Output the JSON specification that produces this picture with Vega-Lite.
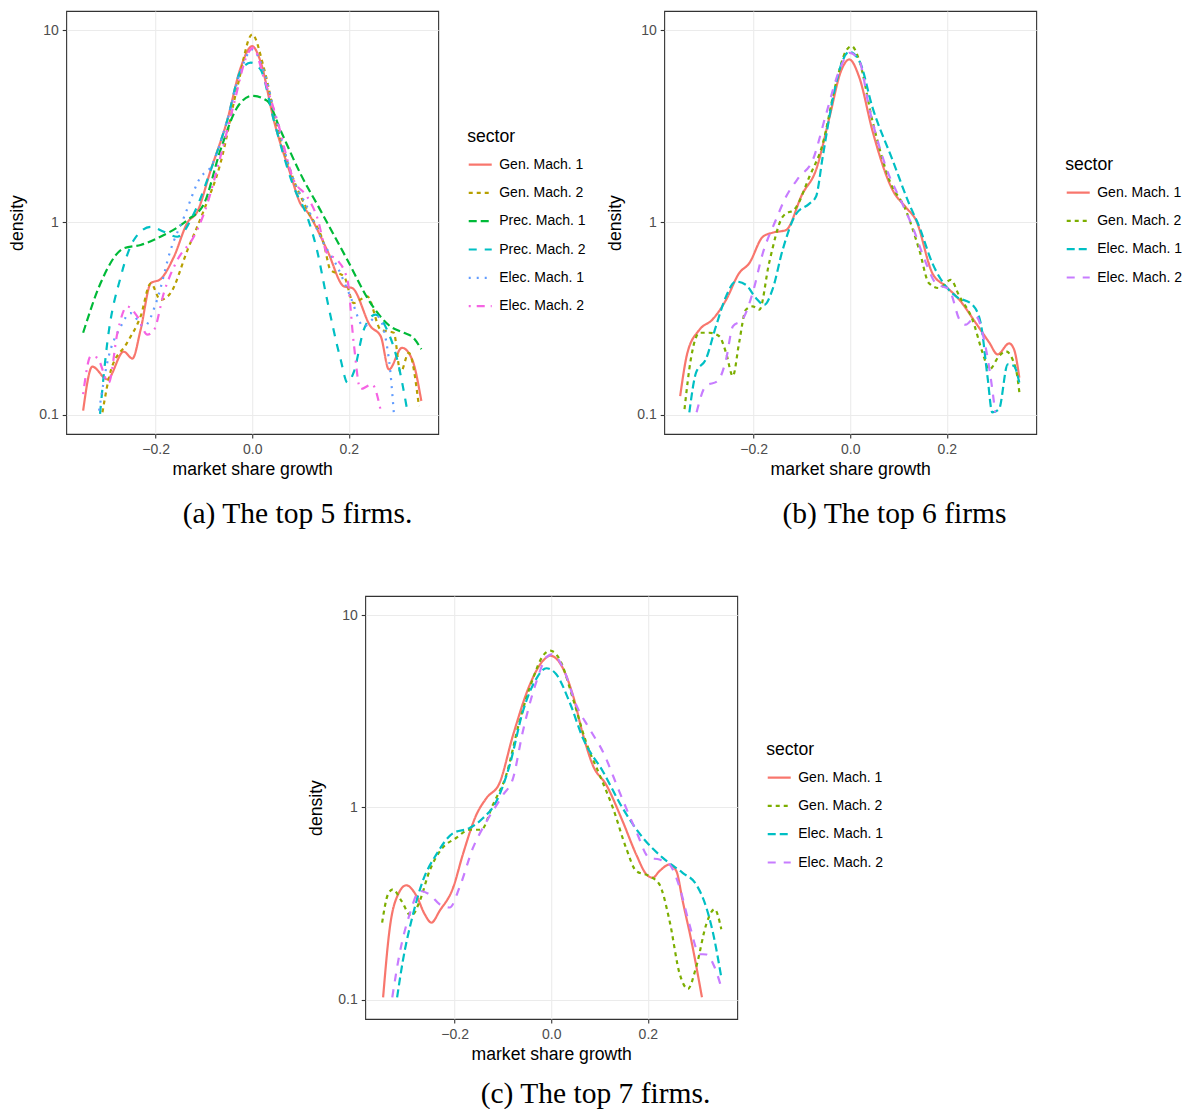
{
"$schema": "https://vega.github.io/schema/vega-lite/v6.json",
"background": "white",
"padding": {"left": 8, "top": 10, "right": 0, "bottom": 0},
"config": {
  "font": "Liberation Sans",
  "view": {"stroke": "#333333", "strokeWidth": 1.1},
  "axis": {"grid": true, "gridColor": "#EBEBEB", "gridWidth": 1.1, "domain": false, "tickColor": "#333333", "tickSize": 4, "tickWidth": 1.1, "labelColor": "#4D4D4D", "labelFontSize": 14, "labelFont": "Liberation Sans", "labelPadding": 4, "titleFont": "Liberation Sans", "titleFontSize": 17.6, "titleFontWeight": "normal", "titleColor": "black", "titlePadding": 4, "labelFlush": false},
  "axisY": {"titlePadding": 12},
  "legend": {"titleFont": "Liberation Sans", "titleFontSize": 17.6, "titleFontWeight": "normal", "titleColor": "black", "labelFont": "Liberation Sans", "labelFontSize": 14, "labelColor": "black", "symbolSize": 529, "symbolStrokeWidth": 2.2, "symbolType": "stroke", "rowPadding": 8.3, "labelOffset": 6, "titlePadding": 6, "padding": 0},
  "title": {"font": "Liberation Serif", "fontSize": 29.5, "fontWeight": "normal", "color": "black", "orient": "bottom", "anchor": "middle", "frame": "bounds", "offset": 22},
  "line": {"strokeWidth": 2.2, "interpolate": "monotone"}
},
"datasets": {
"a": [
{"sector":"Gen. Mach. 1","growth":-0.35,"density":0.105},{"sector":"Gen. Mach. 1","growth":-0.331,"density":0.178},{"sector":"Gen. Mach. 1","growth":-0.30,"density":0.153},{"sector":"Gen. Mach. 1","growth":-0.266,"density":0.213},{"sector":"Gen. Mach. 1","growth":-0.248,"density":0.196},{"sector":"Gen. Mach. 1","growth":-0.231,"density":0.277},{"sector":"Gen. Mach. 1","growth":-0.21,"density":0.483},{"sector":"Gen. Mach. 1","growth":-0.19,"density":0.507},{"sector":"Gen. Mach. 1","growth":-0.162,"density":0.664},{"sector":"Gen. Mach. 1","growth":-0.134,"density":1.0},{"sector":"Gen. Mach. 1","growth":-0.114,"density":1.135},{"sector":"Gen. Mach. 1","growth":-0.086,"density":1.87},{"sector":"Gen. Mach. 1","growth":-0.052,"density":3.38},{"sector":"Gen. Mach. 1","growth":-0.024,"density":6.38},{"sector":"Gen. Mach. 1","growth":0.0,"density":8.26},{"sector":"Gen. Mach. 1","growth":0.017,"density":6.9},{"sector":"Gen. Mach. 1","growth":0.045,"density":3.38},{"sector":"Gen. Mach. 1","growth":0.079,"density":1.79},{"sector":"Gen. Mach. 1","growth":0.1,"density":1.25},{"sector":"Gen. Mach. 1","growth":0.114,"density":1.135},{"sector":"Gen. Mach. 1","growth":0.155,"density":0.719},{"sector":"Gen. Mach. 1","growth":0.19,"density":0.465},{"sector":"Gen. Mach. 1","growth":0.207,"density":0.456},{"sector":"Gen. Mach. 1","growth":0.245,"density":0.288},{"sector":"Gen. Mach. 1","growth":0.266,"density":0.256},{"sector":"Gen. Mach. 1","growth":0.283,"density":0.172},{"sector":"Gen. Mach. 1","growth":0.31,"density":0.223},{"sector":"Gen. Mach. 1","growth":0.331,"density":0.194},{"sector":"Gen. Mach. 1","growth":0.35,"density":0.118},
{"sector":"Gen. Mach. 2","growth":-0.31,"density":0.103},{"sector":"Gen. Mach. 2","growth":-0.293,"density":0.169},{"sector":"Gen. Mach. 2","growth":-0.259,"density":0.237},{"sector":"Gen. Mach. 2","growth":-0.231,"density":0.325},{"sector":"Gen. Mach. 2","growth":-0.21,"density":0.483},{"sector":"Gen. Mach. 2","growth":-0.19,"density":0.396},{"sector":"Gen. Mach. 2","growth":-0.169,"density":0.43},{"sector":"Gen. Mach. 2","growth":-0.134,"density":0.719},{"sector":"Gen. Mach. 2","growth":-0.1,"density":1.16},{"sector":"Gen. Mach. 2","growth":-0.066,"density":2.02},{"sector":"Gen. Mach. 2","growth":-0.031,"density":5.03},{"sector":"Gen. Mach. 2","growth":0.0,"density":9.5},{"sector":"Gen. Mach. 2","growth":0.024,"density":6.38},{"sector":"Gen. Mach. 2","growth":0.052,"density":3.12},{"sector":"Gen. Mach. 2","growth":0.086,"density":1.66},{"sector":"Gen. Mach. 2","growth":0.114,"density":1.16},{"sector":"Gen. Mach. 2","growth":0.148,"density":0.778},{"sector":"Gen. Mach. 2","growth":0.162,"density":0.567},{"sector":"Gen. Mach. 2","growth":0.19,"density":0.524},{"sector":"Gen. Mach. 2","growth":0.21,"density":0.381},{"sector":"Gen. Mach. 2","growth":0.238,"density":0.413},{"sector":"Gen. Mach. 2","growth":0.266,"density":0.277},{"sector":"Gen. Mach. 2","growth":0.293,"density":0.267},{"sector":"Gen. Mach. 2","growth":0.307,"density":0.166},{"sector":"Gen. Mach. 2","growth":0.324,"density":0.21},{"sector":"Gen. Mach. 2","growth":0.345,"density":0.111},
{"sector":"Prec. Mach. 1","growth":-0.35,"density":0.267},{"sector":"Prec. Mach. 1","growth":-0.314,"density":0.483},{"sector":"Prec. Mach. 1","growth":-0.266,"density":0.734},{"sector":"Prec. Mach. 1","growth":-0.231,"density":0.764},{"sector":"Prec. Mach. 1","growth":-0.19,"density":0.843},{"sector":"Prec. Mach. 1","growth":-0.134,"density":1.03},{"sector":"Prec. Mach. 1","growth":-0.1,"density":1.25},{"sector":"Prec. Mach. 1","growth":-0.066,"density":2.37},{"sector":"Prec. Mach. 1","growth":-0.031,"density":3.97},{"sector":"Prec. Mach. 1","growth":0.0,"density":4.56},{"sector":"Prec. Mach. 1","growth":0.031,"density":4.29},{"sector":"Prec. Mach. 1","growth":0.059,"density":3.0},{"sector":"Prec. Mach. 1","growth":0.1,"density":1.79},{"sector":"Prec. Mach. 1","growth":0.141,"density":1.16},{"sector":"Prec. Mach. 1","growth":0.197,"density":0.638},{"sector":"Prec. Mach. 1","growth":0.245,"density":0.381},{"sector":"Prec. Mach. 1","growth":0.286,"density":0.288},{"sector":"Prec. Mach. 1","growth":0.314,"density":0.267},{"sector":"Prec. Mach. 1","growth":0.334,"density":0.251},{"sector":"Prec. Mach. 1","growth":0.35,"density":0.219},
{"sector":"Prec. Mach. 2","growth":-0.315,"density":0.101},{"sector":"Prec. Mach. 2","growth":-0.3,"density":0.237},{"sector":"Prec. Mach. 2","growth":-0.272,"density":0.524},{"sector":"Prec. Mach. 2","growth":-0.245,"density":0.811},{"sector":"Prec. Mach. 2","growth":-0.21,"density":0.95},{"sector":"Prec. Mach. 2","growth":-0.183,"density":0.895},{"sector":"Prec. Mach. 2","growth":-0.155,"density":0.843},{"sector":"Prec. Mach. 2","growth":-0.121,"density":1.11},{"sector":"Prec. Mach. 2","growth":-0.086,"density":1.87},{"sector":"Prec. Mach. 2","growth":-0.052,"density":3.38},{"sector":"Prec. Mach. 2","growth":-0.024,"density":6.14},{"sector":"Prec. Mach. 2","growth":-0.003,"density":6.78},{"sector":"Prec. Mach. 2","growth":0.017,"density":6.26},{"sector":"Prec. Mach. 2","growth":0.045,"density":3.38},{"sector":"Prec. Mach. 2","growth":0.086,"density":1.53},{"sector":"Prec. Mach. 2","growth":0.114,"density":1.07},{"sector":"Prec. Mach. 2","growth":0.134,"density":0.719},{"sector":"Prec. Mach. 2","growth":0.155,"density":0.396},{"sector":"Prec. Mach. 2","growth":0.183,"density":0.194},{"sector":"Prec. Mach. 2","growth":0.197,"density":0.147},{"sector":"Prec. Mach. 2","growth":0.21,"density":0.166},{"sector":"Prec. Mach. 2","growth":0.231,"density":0.277},{"sector":"Prec. Mach. 2","growth":0.255,"density":0.332},{"sector":"Prec. Mach. 2","growth":0.279,"density":0.277},{"sector":"Prec. Mach. 2","growth":0.3,"density":0.194},{"sector":"Prec. Mach. 2","growth":0.321,"density":0.105},
{"sector":"Elec. Mach. 1","growth":-0.317,"density":0.105},{"sector":"Elec. Mach. 1","growth":-0.3,"density":0.187},{"sector":"Elec. Mach. 1","growth":-0.272,"density":0.288},{"sector":"Elec. Mach. 1","growth":-0.252,"density":0.338},{"sector":"Elec. Mach. 1","growth":-0.224,"density":0.288},{"sector":"Elec. Mach. 1","growth":-0.197,"density":0.396},{"sector":"Elec. Mach. 1","growth":-0.169,"density":0.719},{"sector":"Elec. Mach. 1","growth":-0.141,"density":1.07},{"sector":"Elec. Mach. 1","growth":-0.107,"density":1.72},{"sector":"Elec. Mach. 1","growth":-0.086,"density":1.94},{"sector":"Elec. Mach. 1","growth":-0.052,"density":3.38},{"sector":"Elec. Mach. 1","growth":-0.024,"density":6.14},{"sector":"Elec. Mach. 1","growth":0.0,"density":7.94},{"sector":"Elec. Mach. 1","growth":0.024,"density":6.14},{"sector":"Elec. Mach. 1","growth":0.052,"density":3.25},{"sector":"Elec. Mach. 1","growth":0.086,"density":1.66},{"sector":"Elec. Mach. 1","growth":0.114,"density":1.2},{"sector":"Elec. Mach. 1","growth":0.148,"density":0.778},{"sector":"Elec. Mach. 1","growth":0.176,"density":0.59},{"sector":"Elec. Mach. 1","growth":0.203,"density":0.413},{"sector":"Elec. Mach. 1","growth":0.231,"density":0.288},{"sector":"Elec. Mach. 1","growth":0.259,"density":0.325},{"sector":"Elec. Mach. 1","growth":0.283,"density":0.194},{"sector":"Elec. Mach. 1","growth":0.293,"density":0.103},
{"sector":"Elec. Mach. 2","growth":-0.35,"density":0.128},{"sector":"Elec. Mach. 2","growth":-0.334,"density":0.202},{"sector":"Elec. Mach. 2","growth":-0.321,"density":0.198},{"sector":"Elec. Mach. 2","growth":-0.297,"density":0.147},{"sector":"Elec. Mach. 2","growth":-0.279,"density":0.267},{"sector":"Elec. Mach. 2","growth":-0.259,"density":0.366},{"sector":"Elec. Mach. 2","growth":-0.238,"density":0.325},{"sector":"Elec. Mach. 2","growth":-0.217,"density":0.261},{"sector":"Elec. Mach. 2","growth":-0.203,"density":0.277},{"sector":"Elec. Mach. 2","growth":-0.183,"density":0.43},{"sector":"Elec. Mach. 2","growth":-0.155,"density":0.638},{"sector":"Elec. Mach. 2","growth":-0.121,"density":0.843},{"sector":"Elec. Mach. 2","growth":-0.1,"density":1.11},{"sector":"Elec. Mach. 2","growth":-0.066,"density":2.19},{"sector":"Elec. Mach. 2","growth":-0.038,"density":4.13},{"sector":"Elec. Mach. 2","growth":-0.01,"density":7.48},{"sector":"Elec. Mach. 2","growth":0.002,"density":8.1},{"sector":"Elec. Mach. 2","growth":0.024,"density":5.66},{"sector":"Elec. Mach. 2","growth":0.052,"density":3.38},{"sector":"Elec. Mach. 2","growth":0.086,"density":1.66},{"sector":"Elec. Mach. 2","growth":0.114,"density":1.36},{"sector":"Elec. Mach. 2","growth":0.134,"density":1.07},{"sector":"Elec. Mach. 2","growth":0.155,"density":0.692},{"sector":"Elec. Mach. 2","growth":0.176,"density":0.638},{"sector":"Elec. Mach. 2","growth":0.197,"density":0.503},{"sector":"Elec. Mach. 2","growth":0.21,"density":0.237},{"sector":"Elec. Mach. 2","growth":0.224,"density":0.136},{"sector":"Elec. Mach. 2","growth":0.248,"density":0.144},{"sector":"Elec. Mach. 2","growth":0.266,"density":0.105}
],
"b": [
{"sector":"Gen. Mach. 1","growth":-0.352,"density":0.125},{"sector":"Gen. Mach. 1","growth":-0.337,"density":0.21},{"sector":"Gen. Mach. 1","growth":-0.312,"density":0.277},{"sector":"Gen. Mach. 1","growth":-0.285,"density":0.313},{"sector":"Gen. Mach. 1","growth":-0.257,"density":0.396},{"sector":"Gen. Mach. 1","growth":-0.23,"density":0.545},{"sector":"Gen. Mach. 1","growth":-0.209,"density":0.614},{"sector":"Gen. Mach. 1","growth":-0.181,"density":0.843},{"sector":"Gen. Mach. 1","growth":-0.161,"density":0.885},{"sector":"Gen. Mach. 1","growth":-0.133,"density":0.913},{"sector":"Gen. Mach. 1","growth":-0.099,"density":1.41},{"sector":"Gen. Mach. 1","growth":-0.071,"density":1.87},{"sector":"Gen. Mach. 1","growth":-0.043,"density":3.52},{"sector":"Gen. Mach. 1","growth":-0.019,"density":6.14},{"sector":"Gen. Mach. 1","growth":-0.002,"density":7.05},{"sector":"Gen. Mach. 1","growth":0.019,"density":5.66},{"sector":"Gen. Mach. 1","growth":0.046,"density":3.0},{"sector":"Gen. Mach. 1","growth":0.088,"density":1.47},{"sector":"Gen. Mach. 1","growth":0.115,"density":1.2},{"sector":"Gen. Mach. 1","growth":0.136,"density":1.03},{"sector":"Gen. Mach. 1","growth":0.17,"density":0.545},{"sector":"Gen. Mach. 1","growth":0.198,"density":0.465},{"sector":"Gen. Mach. 1","growth":0.226,"density":0.396},{"sector":"Gen. Mach. 1","growth":0.26,"density":0.3},{"sector":"Gen. Mach. 1","growth":0.288,"density":0.237},{"sector":"Gen. Mach. 1","growth":0.305,"density":0.206},{"sector":"Gen. Mach. 1","growth":0.329,"density":0.235},{"sector":"Gen. Mach. 1","growth":0.339,"density":0.219},{"sector":"Gen. Mach. 1","growth":0.35,"density":0.156},
{"sector":"Gen. Mach. 2","growth":-0.343,"density":0.107},{"sector":"Gen. Mach. 2","growth":-0.33,"density":0.194},{"sector":"Gen. Mach. 2","growth":-0.312,"density":0.267},{"sector":"Gen. Mach. 2","growth":-0.292,"density":0.267},{"sector":"Gen. Mach. 2","growth":-0.271,"density":0.256},{"sector":"Gen. Mach. 2","growth":-0.257,"density":0.21},{"sector":"Gen. Mach. 2","growth":-0.243,"density":0.159},{"sector":"Gen. Mach. 2","growth":-0.23,"density":0.237},{"sector":"Gen. Mach. 2","growth":-0.216,"density":0.352},{"sector":"Gen. Mach. 2","growth":-0.202,"density":0.366},{"sector":"Gen. Mach. 2","growth":-0.188,"density":0.352},{"sector":"Gen. Mach. 2","growth":-0.168,"density":0.614},{"sector":"Gen. Mach. 2","growth":-0.14,"density":1.07},{"sector":"Gen. Mach. 2","growth":-0.112,"density":1.2},{"sector":"Gen. Mach. 2","growth":-0.085,"density":1.72},{"sector":"Gen. Mach. 2","growth":-0.057,"density":2.56},{"sector":"Gen. Mach. 2","growth":-0.03,"density":5.24},{"sector":"Gen. Mach. 2","growth":-0.009,"density":7.78},{"sector":"Gen. Mach. 2","growth":0.003,"density":8.26},{"sector":"Gen. Mach. 2","growth":0.019,"density":6.92},{"sector":"Gen. Mach. 2","growth":0.046,"density":3.38},{"sector":"Gen. Mach. 2","growth":0.081,"density":1.66},{"sector":"Gen. Mach. 2","growth":0.115,"density":1.16},{"sector":"Gen. Mach. 2","growth":0.143,"density":0.719},{"sector":"Gen. Mach. 2","growth":0.163,"density":0.483},{"sector":"Gen. Mach. 2","growth":0.184,"density":0.456},{"sector":"Gen. Mach. 2","growth":0.208,"density":0.503},{"sector":"Gen. Mach. 2","growth":0.226,"density":0.413},{"sector":"Gen. Mach. 2","growth":0.253,"density":0.313},{"sector":"Gen. Mach. 2","growth":0.274,"density":0.21},{"sector":"Gen. Mach. 2","growth":0.288,"density":0.172},{"sector":"Gen. Mach. 2","growth":0.308,"density":0.202},{"sector":"Gen. Mach. 2","growth":0.322,"density":0.214},{"sector":"Gen. Mach. 2","growth":0.343,"density":0.172},{"sector":"Gen. Mach. 2","growth":0.351,"density":0.125},
{"sector":"Elec. Mach. 1","growth":-0.333,"density":0.103},{"sector":"Elec. Mach. 1","growth":-0.319,"density":0.166},{"sector":"Elec. Mach. 1","growth":-0.299,"density":0.194},{"sector":"Elec. Mach. 1","growth":-0.278,"density":0.288},{"sector":"Elec. Mach. 1","growth":-0.257,"density":0.413},{"sector":"Elec. Mach. 1","growth":-0.237,"density":0.493},{"sector":"Elec. Mach. 1","growth":-0.216,"density":0.474},{"sector":"Elec. Mach. 1","growth":-0.195,"density":0.404},{"sector":"Elec. Mach. 1","growth":-0.178,"density":0.373},{"sector":"Elec. Mach. 1","growth":-0.161,"density":0.447},{"sector":"Elec. Mach. 1","growth":-0.14,"density":0.719},{"sector":"Elec. Mach. 1","growth":-0.112,"density":1.11},{"sector":"Elec. Mach. 1","growth":-0.085,"density":1.25},{"sector":"Elec. Mach. 1","growth":-0.071,"density":1.36},{"sector":"Elec. Mach. 1","growth":-0.057,"density":2.19},{"sector":"Elec. Mach. 1","growth":-0.037,"density":4.29},{"sector":"Elec. Mach. 1","growth":-0.016,"density":6.92},{"sector":"Elec. Mach. 1","growth":-0.002,"density":7.73},{"sector":"Elec. Mach. 1","growth":0.019,"density":6.92},{"sector":"Elec. Mach. 1","growth":0.046,"density":3.97},{"sector":"Elec. Mach. 1","growth":0.088,"density":2.1},{"sector":"Elec. Mach. 1","growth":0.122,"density":1.25},{"sector":"Elec. Mach. 1","growth":0.143,"density":0.95},{"sector":"Elec. Mach. 1","growth":0.17,"density":0.614},{"sector":"Elec. Mach. 1","growth":0.198,"density":0.465},{"sector":"Elec. Mach. 1","growth":0.219,"density":0.413},{"sector":"Elec. Mach. 1","growth":0.253,"density":0.373},{"sector":"Elec. Mach. 1","growth":0.27,"density":0.3},{"sector":"Elec. Mach. 1","growth":0.284,"density":0.159},{"sector":"Elec. Mach. 1","growth":0.294,"density":0.103},{"sector":"Elec. Mach. 1","growth":0.308,"density":0.107},{"sector":"Elec. Mach. 1","growth":0.326,"density":0.183},{"sector":"Elec. Mach. 1","growth":0.339,"density":0.179},{"sector":"Elec. Mach. 1","growth":0.35,"density":0.147},
{"sector":"Elec. Mach. 2","growth":-0.318,"density":0.103},{"sector":"Elec. Mach. 2","growth":-0.299,"density":0.141},{"sector":"Elec. Mach. 2","growth":-0.274,"density":0.15},{"sector":"Elec. Mach. 2","growth":-0.257,"density":0.194},{"sector":"Elec. Mach. 2","growth":-0.243,"density":0.288},{"sector":"Elec. Mach. 2","growth":-0.223,"density":0.313},{"sector":"Elec. Mach. 2","growth":-0.202,"density":0.43},{"sector":"Elec. Mach. 2","growth":-0.181,"density":0.692},{"sector":"Elec. Mach. 2","growth":-0.154,"density":1.03},{"sector":"Elec. Mach. 2","growth":-0.133,"density":1.36},{"sector":"Elec. Mach. 2","growth":-0.106,"density":1.72},{"sector":"Elec. Mach. 2","growth":-0.078,"density":2.1},{"sector":"Elec. Mach. 2","growth":-0.05,"density":3.66},{"sector":"Elec. Mach. 2","growth":-0.023,"density":6.14},{"sector":"Elec. Mach. 2","growth":-0.001,"density":7.63},{"sector":"Elec. Mach. 2","growth":0.019,"density":6.92},{"sector":"Elec. Mach. 2","growth":0.039,"density":3.97},{"sector":"Elec. Mach. 2","growth":0.074,"density":1.94},{"sector":"Elec. Mach. 2","growth":0.108,"density":1.25},{"sector":"Elec. Mach. 2","growth":0.129,"density":0.95},{"sector":"Elec. Mach. 2","growth":0.157,"density":0.614},{"sector":"Elec. Mach. 2","growth":0.177,"density":0.483},{"sector":"Elec. Mach. 2","growth":0.205,"density":0.447},{"sector":"Elec. Mach. 2","growth":0.226,"density":0.313},{"sector":"Elec. Mach. 2","growth":0.239,"density":0.294},{"sector":"Elec. Mach. 2","growth":0.26,"density":0.325},{"sector":"Elec. Mach. 2","growth":0.277,"density":0.246},{"sector":"Elec. Mach. 2","growth":0.294,"density":0.136},{"sector":"Elec. Mach. 2","growth":0.3,"density":0.103}
],
"c": [
{"sector":"Gen. Mach. 1","growth":-0.348,"density":0.103},{"sector":"Gen. Mach. 1","growth":-0.334,"density":0.238},{"sector":"Gen. Mach. 1","growth":-0.317,"density":0.353},{"sector":"Gen. Mach. 1","growth":-0.3,"density":0.394},{"sector":"Gen. Mach. 1","growth":-0.279,"density":0.347},{"sector":"Gen. Mach. 1","growth":-0.262,"density":0.279},{"sector":"Gen. Mach. 1","growth":-0.248,"density":0.252},{"sector":"Gen. Mach. 1","growth":-0.231,"density":0.29},{"sector":"Gen. Mach. 1","growth":-0.203,"density":0.383},{"sector":"Gen. Mach. 1","growth":-0.183,"density":0.569},{"sector":"Gen. Mach. 1","growth":-0.155,"density":0.916},{"sector":"Gen. Mach. 1","growth":-0.134,"density":1.12},{"sector":"Gen. Mach. 1","growth":-0.107,"density":1.34},{"sector":"Gen. Mach. 1","growth":-0.079,"density":2.38},{"sector":"Gen. Mach. 1","growth":-0.045,"density":4.31},{"sector":"Gen. Mach. 1","growth":-0.017,"density":5.8},{"sector":"Gen. Mach. 1","growth":-0.002,"density":6.16},{"sector":"Gen. Mach. 1","growth":0.017,"density":5.69},{"sector":"Gen. Mach. 1","growth":0.045,"density":3.83},{"sector":"Gen. Mach. 1","growth":0.066,"density":2.38},{"sector":"Gen. Mach. 1","growth":0.086,"density":1.66},{"sector":"Gen. Mach. 1","growth":0.114,"density":1.31},{"sector":"Gen. Mach. 1","growth":0.148,"density":0.846},{"sector":"Gen. Mach. 1","growth":0.176,"density":0.569},{"sector":"Gen. Mach. 1","growth":0.197,"density":0.449},{"sector":"Gen. Mach. 1","growth":0.21,"density":0.431},{"sector":"Gen. Mach. 1","growth":0.224,"density":0.467},{"sector":"Gen. Mach. 1","growth":0.245,"density":0.505},{"sector":"Gen. Mach. 1","growth":0.259,"density":0.467},{"sector":"Gen. Mach. 1","growth":0.272,"density":0.327},{"sector":"Gen. Mach. 1","growth":0.29,"density":0.203},{"sector":"Gen. Mach. 1","growth":0.312,"density":0.103},
{"sector":"Gen. Mach. 2","growth":-0.35,"density":0.252},{"sector":"Gen. Mach. 2","growth":-0.338,"density":0.353},{"sector":"Gen. Mach. 2","growth":-0.328,"density":0.375},{"sector":"Gen. Mach. 2","growth":-0.31,"density":0.327},{"sector":"Gen. Mach. 2","growth":-0.29,"density":0.273},{"sector":"Gen. Mach. 2","growth":-0.272,"density":0.327},{"sector":"Gen. Mach. 2","growth":-0.252,"density":0.467},{"sector":"Gen. Mach. 2","growth":-0.228,"density":0.604},{"sector":"Gen. Mach. 2","growth":-0.197,"density":0.694},{"sector":"Gen. Mach. 2","growth":-0.169,"density":0.766},{"sector":"Gen. Mach. 2","growth":-0.145,"density":0.766},{"sector":"Gen. Mach. 2","growth":-0.121,"density":1.03},{"sector":"Gen. Mach. 2","growth":-0.093,"density":1.48},{"sector":"Gen. Mach. 2","growth":-0.066,"density":2.78},{"sector":"Gen. Mach. 2","growth":-0.038,"density":4.67},{"sector":"Gen. Mach. 2","growth":-0.017,"density":6.16},{"sector":"Gen. Mach. 2","growth":-0.002,"density":6.54},{"sector":"Gen. Mach. 2","growth":0.017,"density":5.92},{"sector":"Gen. Mach. 2","growth":0.045,"density":3.68},{"sector":"Gen. Mach. 2","growth":0.072,"density":2.19},{"sector":"Gen. Mach. 2","growth":0.1,"density":1.48},{"sector":"Gen. Mach. 2","growth":0.128,"density":0.99},{"sector":"Gen. Mach. 2","growth":0.155,"density":0.616},{"sector":"Gen. Mach. 2","growth":0.176,"density":0.467},{"sector":"Gen. Mach. 2","growth":0.203,"density":0.44},{"sector":"Gen. Mach. 2","growth":0.224,"density":0.398},{"sector":"Gen. Mach. 2","growth":0.245,"density":0.257},{"sector":"Gen. Mach. 2","growth":0.266,"density":0.136},{"sector":"Gen. Mach. 2","growth":0.283,"density":0.114},{"sector":"Gen. Mach. 2","growth":0.3,"density":0.148},{"sector":"Gen. Mach. 2","growth":0.321,"density":0.247},{"sector":"Gen. Mach. 2","growth":0.338,"density":0.296},{"sector":"Gen. Mach. 2","growth":0.352,"density":0.233},
{"sector":"Elec. Mach. 1","growth":-0.319,"density":0.103},{"sector":"Elec. Mach. 1","growth":-0.307,"density":0.16},{"sector":"Elec. Mach. 1","growth":-0.286,"density":0.279},{"sector":"Elec. Mach. 1","growth":-0.266,"density":0.414},{"sector":"Elec. Mach. 1","growth":-0.238,"density":0.569},{"sector":"Elec. Mach. 1","growth":-0.203,"density":0.736},{"sector":"Elec. Mach. 1","growth":-0.169,"density":0.782},{"sector":"Elec. Mach. 1","growth":-0.141,"density":0.881},{"sector":"Elec. Mach. 1","growth":-0.114,"density":1.07},{"sector":"Elec. Mach. 1","growth":-0.086,"density":1.66},{"sector":"Elec. Mach. 1","growth":-0.059,"density":3.14},{"sector":"Elec. Mach. 1","growth":-0.031,"density":4.67},{"sector":"Elec. Mach. 1","growth":-0.01,"density":5.3},{"sector":"Elec. Mach. 1","growth":0.01,"density":4.95},{"sector":"Elec. Mach. 1","growth":0.038,"density":3.53},{"sector":"Elec. Mach. 1","growth":0.066,"density":2.28},{"sector":"Elec. Mach. 1","growth":0.107,"density":1.54},{"sector":"Elec. Mach. 1","growth":0.148,"density":0.99},{"sector":"Elec. Mach. 1","growth":0.19,"density":0.694},{"sector":"Elec. Mach. 1","growth":0.231,"density":0.547},{"sector":"Elec. Mach. 1","growth":0.272,"density":0.457},{"sector":"Elec. Mach. 1","growth":0.3,"density":0.398},{"sector":"Elec. Mach. 1","growth":0.321,"density":0.302},{"sector":"Elec. Mach. 1","growth":0.334,"density":0.228},{"sector":"Elec. Mach. 1","growth":0.352,"density":0.131},
{"sector":"Elec. Mach. 2","growth":-0.329,"density":0.103},{"sector":"Elec. Mach. 2","growth":-0.314,"density":0.173},{"sector":"Elec. Mach. 2","growth":-0.293,"density":0.279},{"sector":"Elec. Mach. 2","growth":-0.272,"density":0.368},{"sector":"Elec. Mach. 2","growth":-0.252,"density":0.353},{"sector":"Elec. Mach. 2","growth":-0.231,"density":0.314},{"sector":"Elec. Mach. 2","growth":-0.21,"density":0.302},{"sector":"Elec. Mach. 2","growth":-0.19,"density":0.383},{"sector":"Elec. Mach. 2","growth":-0.162,"density":0.616},{"sector":"Elec. Mach. 2","growth":-0.134,"density":0.846},{"sector":"Elec. Mach. 2","growth":-0.1,"density":1.16},{"sector":"Elec. Mach. 2","growth":-0.079,"density":1.42},{"sector":"Elec. Mach. 2","growth":-0.059,"density":2.47},{"sector":"Elec. Mach. 2","growth":-0.031,"density":4.49},{"sector":"Elec. Mach. 2","growth":-0.01,"density":6.04},{"sector":"Elec. Mach. 2","growth":0.002,"density":6.28},{"sector":"Elec. Mach. 2","growth":0.024,"density":5.36},{"sector":"Elec. Mach. 2","growth":0.052,"density":3.4},{"sector":"Elec. Mach. 2","growth":0.079,"density":2.57},{"sector":"Elec. Mach. 2","growth":0.107,"density":1.95},{"sector":"Elec. Mach. 2","growth":0.141,"density":1.21},{"sector":"Elec. Mach. 2","growth":0.176,"density":0.751},{"sector":"Elec. Mach. 2","growth":0.203,"density":0.547},{"sector":"Elec. Mach. 2","growth":0.224,"density":0.536},{"sector":"Elec. Mach. 2","growth":0.245,"density":0.505},{"sector":"Elec. Mach. 2","growth":0.266,"density":0.383},{"sector":"Elec. Mach. 2","growth":0.286,"density":0.247},{"sector":"Elec. Mach. 2","growth":0.307,"density":0.173},{"sector":"Elec. Mach. 2","growth":0.321,"density":0.172},{"sector":"Elec. Mach. 2","growth":0.338,"density":0.148},{"sector":"Elec. Mach. 2","growth":0.352,"density":0.116}
]
},
"vconcat": [
  {
    "hconcat": [
      {
        "width": 372, "height": 423,
        "data": {"name": "a"},
        "title": "(a) The top 5 firms.",
        "mark": {"type": "line", "clip": true},
        "encoding": {
          "x": {"field": "growth", "type": "quantitative", "scale": {"domain": [-0.385, 0.385], "nice": false, "zero": false}, "axis": {"values": [-0.2, 0, 0.2], "format": ".1f", "title": "market share growth"}},
          "y": {"field": "density", "type": "quantitative", "scale": {"type": "log", "domain": [0.07943, 12.589], "nice": false}, "axis": {"values": [0.1, 1, 10], "format": "~g", "title": "density"}},
          "color": {"field": "sector", "type": "nominal", "scale": {"domain": ["Gen. Mach. 1", "Gen. Mach. 2", "Prec. Mach. 1", "Prec. Mach. 2", "Elec. Mach. 1", "Elec. Mach. 2"], "range": ["#F8766D", "#B79F00", "#00BA38", "#00BFC4", "#619CFF", "#F564E3"]}, "legend": {"title": "sector", "orient": "none", "legendX": 401, "legendY": 117}},
          "strokeDash": {"field": "sector", "type": "nominal", "scale": {"domain": ["Gen. Mach. 1", "Gen. Mach. 2", "Prec. Mach. 1", "Prec. Mach. 2", "Elec. Mach. 1", "Elec. Mach. 2"], "range": [[1, 0], [4, 4], [8, 4], [8, 8], [2, 6], [2, 6, 8, 6]]}, "legend": {"title": "sector", "orient": "none", "legendX": 401, "legendY": 117}}
        }
      },
      {
        "width": 372, "height": 423,
        "data": {"name": "b"},
        "title": "(b) The top 6 firms",
        "mark": {"type": "line", "clip": true},
        "encoding": {
          "x": {"field": "growth", "type": "quantitative", "scale": {"domain": [-0.385, 0.385], "nice": false, "zero": false}, "axis": {"values": [-0.2, 0, 0.2], "format": ".1f", "title": "market share growth"}},
          "y": {"field": "density", "type": "quantitative", "scale": {"type": "log", "domain": [0.07943, 12.589], "nice": false}, "axis": {"values": [0.1, 1, 10], "format": "~g", "title": "density"}},
          "color": {"field": "sector", "type": "nominal", "scale": {"domain": ["Gen. Mach. 1", "Gen. Mach. 2", "Elec. Mach. 1", "Elec. Mach. 2"], "range": ["#F8766D", "#7CAE00", "#00BFC4", "#C77CFF"]}, "legend": {"title": "sector", "orient": "none", "legendX": 401, "legendY": 145}},
          "strokeDash": {"field": "sector", "type": "nominal", "scale": {"domain": ["Gen. Mach. 1", "Gen. Mach. 2", "Elec. Mach. 1", "Elec. Mach. 2"], "range": [[1, 0], [4, 4], [8, 4], [8, 8]]}, "legend": {"title": "sector", "orient": "none", "legendX": 401, "legendY": 145}}
        }
      }
    ],
    "spacing": 18,
    "resolve": {"scale": {"color": "independent", "strokeDash": "independent", "x": "independent", "y": "independent"}, "legend": {"color": "independent", "strokeDash": "independent"}}
  },
  {
    "width": 372, "height": 423,
    "data": {"name": "c"},
    "title": {"text": "(c) The top 7 firms.", "offset": 17},
    "mark": {"type": "line", "clip": true},
    "encoding": {
      "x": {"field": "growth", "type": "quantitative", "scale": {"domain": [-0.385, 0.385], "nice": false, "zero": false}, "axis": {"values": [-0.2, 0, 0.2], "format": ".1f", "title": "market share growth"}},
      "y": {"field": "density", "type": "quantitative", "scale": {"type": "log", "domain": [0.07943, 12.589], "nice": false}, "axis": {"values": [0.1, 1, 10], "format": "~g", "title": "density"}},
      "color": {"field": "sector", "type": "nominal", "scale": {"domain": ["Gen. Mach. 1", "Gen. Mach. 2", "Elec. Mach. 1", "Elec. Mach. 2"], "range": ["#F8766D", "#7CAE00", "#00BFC4", "#C77CFF"]}, "legend": {"title": "sector", "orient": "none", "legendX": 401, "legendY": 145}},
      "strokeDash": {"field": "sector", "type": "nominal", "scale": {"domain": ["Gen. Mach. 1", "Gen. Mach. 2", "Elec. Mach. 1", "Elec. Mach. 2"], "range": [[1, 0], [4, 4], [8, 4], [8, 8]]}, "legend": {"title": "sector", "orient": "none", "legendX": 401, "legendY": 145}}
    }
  }
],
"spacing": 66,
"center": true,
"resolve": {"scale": {"color": "independent", "strokeDash": "independent", "x": "independent", "y": "independent"}, "legend": {"color": "independent", "strokeDash": "independent"}}
}
